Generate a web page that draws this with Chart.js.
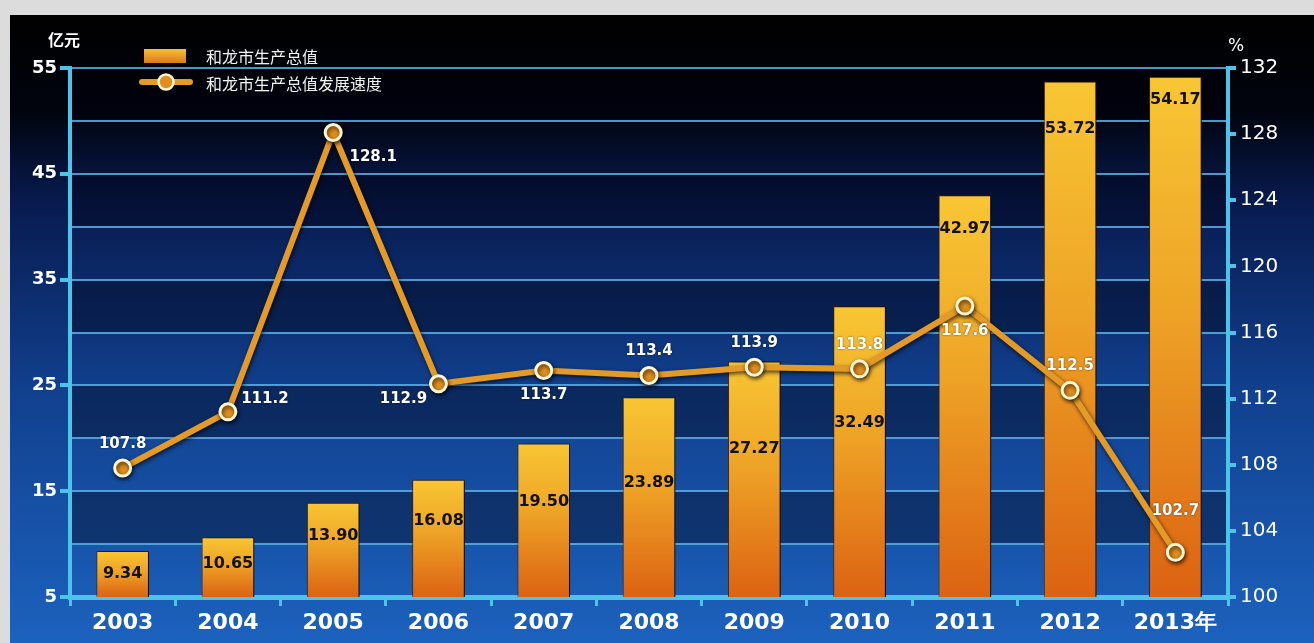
<!DOCTYPE html>
<html>
<head>
<meta charset="utf-8">
<script src="https://cdn.jsdelivr.net/npm/chart.js@4.4.1/dist/chart.umd.min.js"></script>
<style>
  html, body { margin: 0; padding: 0; background: #dcdcdc; }
  #wrap { width: 1314px; height: 643px; }
</style>
</head>
<body>
<div id="wrap"><canvas id="gdpChart" width="1314" height="643"></canvas></div>
<script>
// data
const years = ['2003', '2004', '2005', '2006', '2007', '2008', '2009', '2010', '2011', '2012', '2013年'];
const gdpValues = [9.34, 10.65, 13.90, 16.08, 19.50, 23.89, 27.27, 32.49, 42.97, 53.72, 54.17];
const growthValues = [107.8, 111.2, 128.1, 112.9, 113.7, 113.4, 113.9, 113.8, 117.6, 112.5, 102.7];
const leftTicks = [5, 15, 25, 35, 45, 55];
const rightTicks = [100, 104, 108, 112, 116, 120, 124, 128, 132];

// where each label sits relative to its mark
const growthLabelPlace = ['above', 'right', 'rightBelow', 'leftBelow', 'below', 'above', 'above', 'above', 'below', 'above', 'aboveFar'];
const barLabelDrop = [23, 27, 33, 41, 58, 86, 87, 117, 34, 47, 23];

const axisBlue = '#4cc4ea';
const gridBlue = 'rgba(90, 175, 230, 0.85)';
const lineOrange = '#e39a26';
const numFont = '"DejaVu Sans", Verdana, sans-serif';
const cjkFont = '"Noto Sans CJK SC", "Noto Sans", sans-serif';

function barGradient(c) {
    const chart = c.chart;
    const yScale = chart.scales.y;
    if (!chart.chartArea || !yScale || c.dataIndex === undefined) return '#eea020';
    const top = yScale.getPixelForValue(gdpValues[c.dataIndex]);
    const base = yScale.getPixelForValue(yScale.min);
    if (!isFinite(top) || !isFinite(base)) return '#eea020';
    const g = chart.ctx.createLinearGradient(0, top, 0, base);
    g.addColorStop(0, '#f8c634');
    g.addColorStop(0.45, '#eea326');
    g.addColorStop(1, '#dc6212');
    return g;
}

const backdropPlugin = {
    id: 'backdrop',
    beforeDraw(chart) {
        const ctx = chart.ctx;
        const { left, right, top, bottom } = chart.chartArea;
        ctx.save();
        ctx.fillStyle = '#dcdcdc';
        ctx.fillRect(0, 0, chart.width, chart.height);
        const g = ctx.createLinearGradient(0, 15, 0, chart.height);
        g.addColorStop(0, '#000000');
        g.addColorStop(0.15, '#01040e');
        g.addColorStop(0.3, '#081b50');
        g.addColorStop(0.6, '#11408e');
        g.addColorStop(1, '#1c62be');
        ctx.fillStyle = g;
        ctx.fillRect(10, 15, chart.width - 10, chart.height - 15);

        // alternating bands between the grid lines
        const y = chart.scales.y;
        for (let v = 55; v > 5; v -= 5) {
            if (v % 10 === 5) {
                const y1 = y.getPixelForValue(v);
                const y2 = y.getPixelForValue(v - 5);
                ctx.fillStyle = 'rgba(0, 0, 10, 0.36)';
                ctx.fillRect(left, y1, right - left, y2 - y1);
            }
        }
        ctx.restore();
    }
};

const shadowPlugin = {
    id: 'markShadow',
    beforeDatasetDraw(chart, args) {
        const ctx = chart.ctx;
        ctx.save();
        if (args.meta.type === 'bar') {
            ctx.shadowColor = 'rgba(0, 0, 0, 0.75)';
            ctx.shadowOffsetX = 4;
            ctx.shadowOffsetY = 0;
            ctx.shadowBlur = 3;
        } else {
            ctx.shadowColor = 'rgba(0, 0, 0, 0.7)';
            ctx.shadowOffsetX = 1;
            ctx.shadowOffsetY = 2;
            ctx.shadowBlur = 4;
        }
    },
    afterDatasetDraw(chart) {
        chart.ctx.restore();
    }
};

const labelPlugin = {
    id: 'valueLabels',
    afterDatasetsDraw(chart) {
        const ctx = chart.ctx;
        ctx.save();
        ctx.textAlign = 'center';
        ctx.textBaseline = 'middle';

        const barMeta = chart.getDatasetMeta(0);
        ctx.font = 'bold 16px ' + numFont;
        ctx.fillStyle = '#111111';
        barMeta.data.forEach((bar, i) => {
            ctx.fillText(gdpValues[i].toFixed(2), bar.x, bar.y + barLabelDrop[i]);
        });

        const lineMeta = chart.getDatasetMeta(1);
        ctx.font = 'bold 15px ' + numFont;
        ctx.fillStyle = '#ffffff';
        ctx.shadowColor = 'rgba(0,0,0,0.6)';
        ctx.shadowBlur = 2;
        lineMeta.data.forEach((pt, i) => {
            let dx = 0, dy = -24;
            switch (growthLabelPlace[i]) {
                case 'right': dx = 37; dy = -13; break;
                case 'rightBelow': dx = 40; dy = 25; break;
                case 'leftBelow': dx = -35; dy = 15; break;
                case 'below': dx = 0; dy = 25; break;
                case 'aboveFar': dx = 0; dy = -41; break;
            }
            ctx.fillText(growthValues[i].toFixed(1), pt.x + dx, pt.y + dy);
        });
        ctx.restore();
    }
};

const legendPlugin = {
    id: 'customLegend',
    afterDraw(chart) {
        const ctx = chart.ctx;
        ctx.save();
        // unit captions
        ctx.fillStyle = '#ffffff';
        ctx.textBaseline = 'middle';
        ctx.textAlign = 'center';
        ctx.font = 'bold 16px ' + cjkFont;
        ctx.fillText('亿元', 64, 40);
        ctx.font = '17px ' + numFont;
        ctx.fillText('%', 1236, 47);

        // bar swatch
        const g = ctx.createLinearGradient(0, 49, 0, 63);
        g.addColorStop(0, '#f6c032');
        g.addColorStop(1, '#de7a14');
        ctx.fillStyle = g;
        ctx.fillRect(144, 49, 42, 14);
        // line swatch
        ctx.strokeStyle = lineOrange;
        ctx.lineWidth = 6;
        ctx.lineCap = 'round';
        ctx.beginPath();
        ctx.moveTo(142, 82);
        ctx.lineTo(190, 82);
        ctx.stroke();
        ctx.beginPath();
        ctx.arc(166, 82, 7.5, 0, Math.PI * 2);
        ctx.fillStyle = '#e08e1c';
        ctx.fill();
        ctx.strokeStyle = '#fff6d8';
        ctx.lineWidth = 2.5;
        ctx.stroke();

        ctx.fillStyle = '#f2f2f2';
        ctx.textAlign = 'left';
        ctx.font = '16px ' + cjkFont;
        ctx.fillText(chart.data.datasets[0].label, 206, 57);
        ctx.fillText(chart.data.datasets[1].label, 206, 84);
        ctx.restore();
    }
};

const ctx = document.getElementById('gdpChart').getContext('2d');
const gdpChart = new Chart(ctx, {
    data: {
        labels: years,
        datasets: [{
            type: 'bar',
            label: '和龙市生产总值',
            data: gdpValues,
            yAxisID: 'y',
            backgroundColor: barGradient,
            borderColor: 'rgba(70, 30, 0, 0.9)',
            borderWidth: 1,
            borderSkipped: false,
            categoryPercentage: 1.0,
            barPercentage: 0.5,
            order: 2
        }, {
            type: 'line',
            label: '和龙市生产总值发展速度',
            data: growthValues,
            yAxisID: 'y1',
            borderColor: lineOrange,
            borderWidth: 6,
            pointRadius: 8,
            pointBackgroundColor: '#e08e1c',
            pointBorderColor: '#fff6d8',
            pointBorderWidth: 3,
            tension: 0,
            order: 1
        }]
    },
    options: {
        responsive: false,
        animation: false,
        layout: { padding: { left: 10, right: 0, top: 68, bottom: 0 } },
        plugins: {
            legend: { display: false },
            tooltip: { enabled: false }
        },
        scales: {
            x: {
                offset: true,
                grid: {
                    offset: true,
                    drawOnChartArea: false,
                    color: axisBlue,
                    lineWidth: 3,
                    tickLength: 9
                },
                border: { color: axisBlue, width: 5 },
                ticks: {
                    color: '#ffffff',
                    font: { family: numFont, size: 22, weight: 'bold' },
                    padding: 4,
                    maxRotation: 0
                },
                afterFit(scale) { scale.height = 46; }
            },
            y: {
                position: 'left',
                min: 5,
                max: 55,
                afterBuildTicks(scale) {
                    scale.ticks = [];
                    for (let v = 5; v <= 55; v += 5) scale.ticks.push({ value: v });
                },
                grid: {
                    color: gridBlue,
                    lineWidth: 2,
                    tickLength: 10,
                    tickColor: (c) => (c.tick && leftTicks.includes(c.tick.value)) ? axisBlue : 'rgba(0,0,0,0)',
                    tickWidth: 4
                },
                border: { color: axisBlue, width: 4 },
                ticks: {
                    color: '#ffffff',
                    font: { family: numFont, size: 18, weight: 'bold' },
                    padding: 3,
                    callback: (v) => leftTicks.includes(v) ? String(v) : ''
                },
                afterFit(scale) { scale.width = 60; }
            },
            y1: {
                position: 'right',
                min: 100,
                max: 132,
                afterBuildTicks(scale) {
                    scale.ticks = rightTicks.map(v => ({ value: v }));
                },
                grid: {
                    drawOnChartArea: false,
                    color: axisBlue,
                    lineWidth: 4,
                    tickLength: 8
                },
                border: { color: axisBlue, width: 4 },
                ticks: {
                    color: '#ffffff',
                    font: { family: numFont, size: 20 },
                    padding: 4
                },
                afterFit(scale) { scale.width = 86; }
            }
        }
    },
    plugins: [backdropPlugin, shadowPlugin, labelPlugin, legendPlugin]
});
</script>
</body>
</html>
